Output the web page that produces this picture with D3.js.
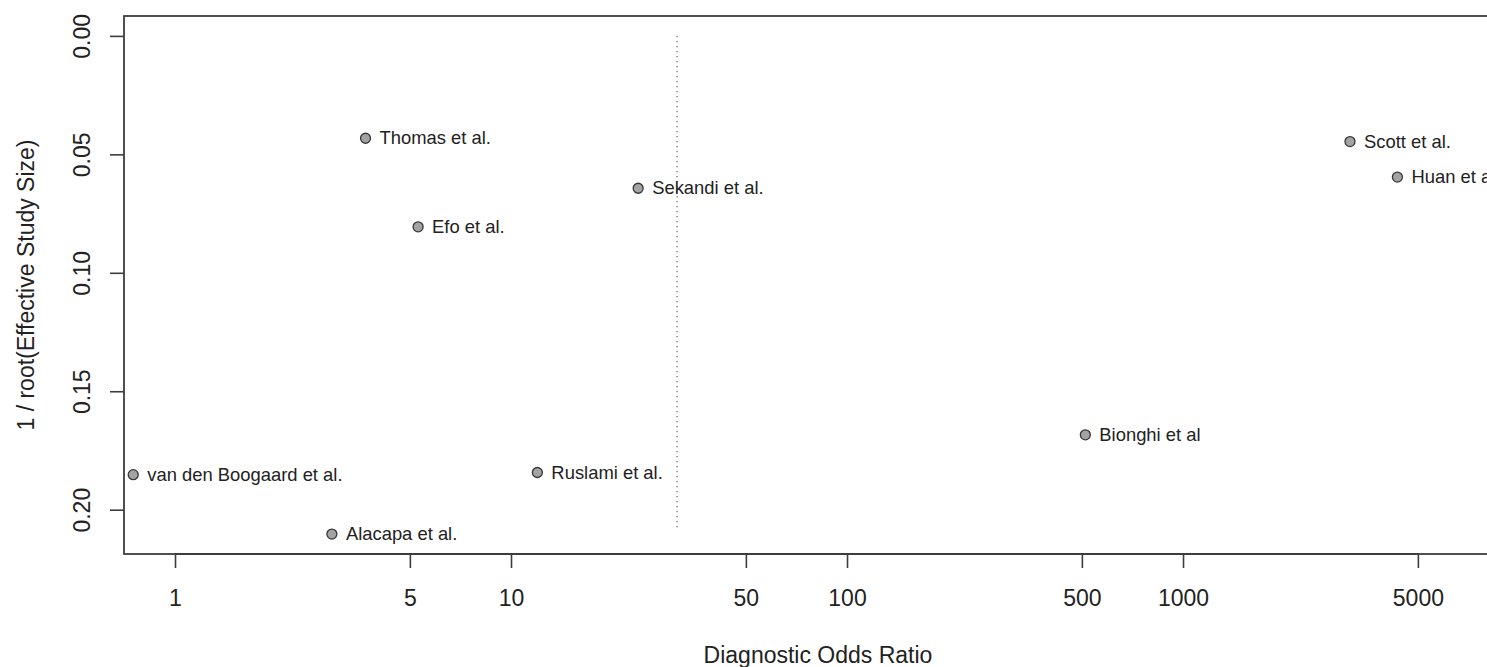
<!DOCTYPE html>
<html>
<head>
<meta charset="utf-8">
<script src="https://cdn.jsdelivr.net/npm/d3@7"></script>
<style>
  html, body { margin: 0; padding: 0; background: #fff; }
  svg { display: block; font-family: "Liberation Sans", Arial, sans-serif; }
</style>
</head>
<body>
<div id="chart"></div>
<script>
(function(){
  'use strict';

  // study data
  const studies = ["Thomas et al.", "Sekandi et al.", "Efo et al.", "Scott et al.", "Huan et al.",
                   "Bionghi et al", "van den Boogaard et al.", "Ruslami et al.", "Alacapa et al."];
  const dor = [3.69, 23.9, 5.29, 3140, 4345, 512, 0.751, 11.98, 2.93];
  const invRootESS = [0.0432, 0.0643, 0.0806, 0.0446, 0.0596, 0.1684, 0.1852, 0.1843, 0.2103];

  const xTicks = [1, 5, 10, 50, 100, 500, 1000, 5000];
  const yTicks = [0, 0.05, 0.10, 0.15, 0.20];
  const summaryDor = 31.2;       // dotted reference line
  const refLineSpan = [0, 0.2085];

  const xLimits = [0.705, 9530];
  const yLimits = [-0.0084, 0.2187];

  // plot box (right side runs past the window)
  const W = 1487, H = 667;
  const box = {left: 124, top: 16, right: 1512, bottom: 554};

  const svg = d3.select("#chart").append("svg")
    .attr("width", W)
    .attr("height", H);

  const x = d3.scaleLog().domain(xLimits).range([box.left, box.right]);
  const y = d3.scaleLinear().domain(yLimits).range([box.top, box.bottom]);

  const axisColor = "#3d3d3d";

  //Dotted reference line first so points sit over it
  svg.append("line")
    .attr("x1", x(summaryDor)).attr("x2", x(summaryDor))
    .attr("y1", y(refLineSpan[0])).attr("y2", y(refLineSpan[1]))
    .attr("stroke", "#7a7a7a")
    .attr("stroke-width", 1.4)
    .attr("stroke-dasharray", "1.4,3.6");

  // x axis
  const xAxis = svg.append("g")
    .attr("transform", "translate(0," + box.bottom + ")")
    .call(d3.axisBottom(x).tickValues(xTicks).tickFormat(d3.format("d")).tickSize(14));
  xAxis.select(".domain").remove();
  xAxis.selectAll(".tick line").attr("stroke", axisColor).attr("stroke-width", 1.6);
  xAxis.selectAll(".tick text")
    .attr("y", 52).attr("dy", null)
    .attr("fill", "#222")
    .style("font-size", "23px");
  xAxis.append("line")
    .attr("x1", x(xTicks[0])).attr("x2", x(xTicks[xTicks.length - 1]))
    .attr("stroke", axisColor).attr("stroke-width", 1.8);

  // y axis, labels parallel to the axis like base R
  const yAxis = svg.append("g")
    .attr("transform", "translate(" + box.left + ",0)")
    .call(d3.axisLeft(y).tickValues(yTicks).tickFormat(d3.format(".2f")).tickSize(14));
  yAxis.select(".domain").remove();
  yAxis.selectAll(".tick line").attr("stroke", axisColor).attr("stroke-width", 1.6);
  yAxis.selectAll(".tick text")
    .attr("x", null).attr("dy", null)
    .attr("transform", "translate(-34,0) rotate(-90)")
    .attr("text-anchor", "middle")
    .attr("fill", "#222")
    .style("font-size", "23px");

  // plot frame
  svg.append("rect")
    .attr("x", box.left).attr("y", box.top)
    .attr("width", box.right - box.left).attr("height", box.bottom - box.top)
    .attr("fill", "none")
    .attr("stroke", axisColor)
    .attr("stroke-width", 1.8);

  // axis titles
  svg.append("text")
    .attr("x", (box.left + box.right) / 2).attr("y", 663)
    .attr("text-anchor", "middle")
    .attr("fill", "#222")
    .style("font-size", "23px")
    .text("Diagnostic Odds Ratio");

  svg.append("text")
    .attr("transform", "translate(34," + ((box.top + box.bottom) / 2) + ") rotate(-90)")
    .attr("text-anchor", "middle")
    .attr("fill", "#222")
    .style("font-size", "23px")
    .text("1 / root(Effective Study Size)");

  // points + labels
  const pts = studies.map(function(s, i){ return {name: s, dor: dor[i], se: invRootESS[i]}; });

  const node = svg.selectAll(".study")
    .data(pts)
    .enter()
    .append("g")
      .attr("class", "study")
      .attr("transform", function(d){ return "translate(" + x(d.dor) + "," + y(d.se) + ")"; });

  node.append("circle")
    .attr("r", 5)
    .attr("fill", "#a3a3a3")
    .attr("stroke", "#383838")
    .attr("stroke-width", 1.3);

  node.append("text")
    .attr("x", 14)
    .attr("y", 6)
    .attr("fill", "#222")
    .style("font-size", "18.4px")
    .text(function(d){ return d.name; });

})();
</script>
</body>
</html>
